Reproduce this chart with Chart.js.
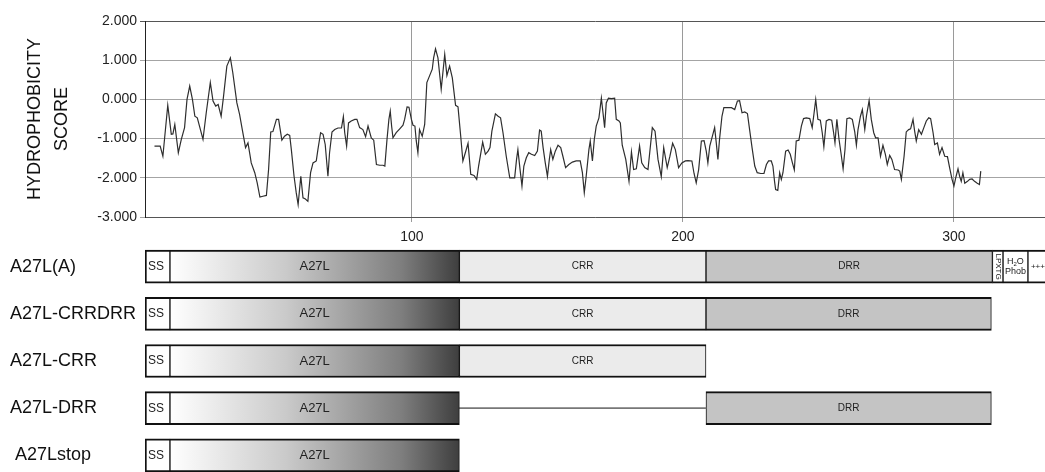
<!DOCTYPE html>
<html>
<head>
<meta charset="utf-8">
<script src="https://cdn.jsdelivr.net/npm/chart.js@4/dist/chart.umd.min.js"></script>
<style>
  html, body { margin: 0; padding: 0; background: #fff; overflow: hidden; width: 1045px; height: 472px; }
  #profile { position: absolute; left: 0; top: 0; }
  #domains { position: absolute; left: 0; top: 243px; }
</style>
</head>
<body>
<canvas id="profile" width="1045" height="245"></canvas>
<canvas id="domains" width="1045" height="236"></canvas>
<script>
// Hydrophobicity profile: residue position and score
const residues = [
  5.0, 7.1, 8.1, 9.9, 11.2, 11.8, 12.5, 13.8, 14.9, 16.1, 17.0, 18.0, 19.0, 19.9, 20.8, 22.9, 24.1, 25.6, 26.6, 27.6,
  28.5, 29.6, 30.5, 31.7, 33.0, 33.9, 35.4, 36.4, 37.4, 38.6, 39.5, 40.2, 40.7, 42.0, 42.9, 43.9, 45.0, 46.3, 47.1, 47.9,
  48.7, 50.0, 50.8, 52.0, 53.0, 54.0, 54.9, 55.5, 56.5, 57.3, 58.0, 59.0, 59.8, 60.7, 61.6, 62.6, 63.5, 64.7, 65.3, 66.3,
  67.2, 68.0, 69.0, 69.6, 70.5, 71.5, 72.7, 74.0, 74.7, 75.2, 75.9, 76.6, 77.6, 78.9, 79.7, 80.7, 81.9, 82.9, 83.8, 85.0,
  85.9, 86.9, 88.1, 89.3, 90.0, 90.8, 91.5, 92.0, 92.5, 93.0, 94.2, 95.5, 96.7, 97.3, 98.2, 98.9, 99.8, 100.4, 101.1, 101.6,
  102.2, 102.8, 103.8, 104.7, 105.5, 106.5, 107.5, 108.0, 108.7, 109.6, 110.8, 112.1, 112.9, 113.9, 114.9, 116.1, 117.0, 118.0, 118.8, 119.7,
  120.7, 121.7, 122.9, 123.9, 124.6, 126.1, 127.1, 128.1, 128.8, 129.5, 130.8, 131.8, 132.7, 133.6, 134.8, 136.1, 136.9, 137.9, 138.6, 139.1,
  139.9, 140.6, 141.3, 142.2, 143.1, 144.1, 145.3, 146.3, 147.1, 147.7, 148.4, 149.2, 150.0, 150.7, 151.2, 152.0, 152.9, 153.9, 154.9, 155.7,
  156.7, 157.9, 159.2, 160.6, 162.1, 162.9, 163.6, 164.3, 165.3, 165.8, 166.6, 167.3, 168.0, 169.0, 169.9, 170.5, 171.1, 171.7, 172.5, 173.6,
  174.8, 175.4, 176.4, 176.9, 177.6, 178.9, 180.1, 181.0, 181.8, 182.8, 184.0, 184.8, 185.9, 187.1, 188.7, 189.7, 190.8, 192.0, 192.9, 194.2,
  195.2, 196.2, 197.2, 198.4, 199.6, 200.9, 201.9, 203.3, 204.1, 204.9, 205.8, 206.8, 207.8, 208.6, 209.2, 209.9, 210.7, 211.7, 212.3, 212.9,
  213.5, 214.4, 215.1, 216.6, 217.9, 219.1, 220.1, 220.9, 221.8, 222.8, 223.8, 224.6, 225.5, 226.5, 227.4, 228.7, 229.9, 230.8, 231.6, 232.6,
  233.2, 233.8, 234.2, 235.0, 235.7, 236.3, 236.9, 237.9, 238.8, 239.6, 240.4, 241.1, 241.8, 242.8, 243.7, 244.5, 245.5, 246.8, 247.7, 248.4,
  249.0, 249.8, 250.7, 251.4, 252.0, 252.9, 253.9, 254.9, 255.6, 256.1, 256.8, 257.6, 258.3, 259.1, 259.8, 260.5, 261.5, 262.5, 263.4, 264.0,
  264.6, 265.5, 266.2, 267.1, 267.7, 268.7, 269.5, 270.4, 271.1, 272.0, 272.9, 273.8, 274.7, 275.4, 276.3, 277.1, 278.1, 279.4, 280.0, 280.6,
  281.6, 282.4, 283.3, 284.0, 284.9, 285.5, 286.1, 287.0, 288.0, 288.9, 289.8, 290.7, 291.4, 292.3, 292.9, 293.9, 294.7, 295.6, 296.6, 297.6,
  298.4, 299.3, 300.0, 300.8, 301.5, 302.1, 302.7, 303.3, 304.0, 305.0, 305.8, 306.7, 307.6, 308.6, 309.4, 309.9
];
const scores = [
  -1.19, -1.19, -1.45, -0.15, -0.89, -0.88, -0.64, -1.36, -1.02, -0.72, 0.00, 0.34, 0.00, -0.43, -0.47, -1.02, -0.34, 0.43, -0.04, -0.17,
  -0.13, -0.43, 0.09, 0.85, 1.06, 0.68, -0.09, -0.38, -0.77, -1.23, -1.11, -1.40, -1.62, -1.87, -2.13, -2.49, -2.47, -2.45, -1.79, -0.83,
  -0.82, -0.51, -0.51, -1.04, -0.94, -0.89, -0.92, -1.28, -1.96, -2.38, -2.68, -1.96, -2.51, -2.54, -2.60, -1.87, -1.62, -1.57, -1.28, -0.85,
  -0.89, -1.15, -1.96, -1.36, -0.83, -0.77, -0.73, -0.73, -0.44, -0.85, -1.19, -0.60, -0.55, -0.51, -0.51, -0.72, -0.77, -0.95, -0.68, -0.98,
  -1.04, -1.66, -1.68, -1.68, -1.70, -1.02, -0.51, -0.30, -0.68, -0.98, -0.85, -0.75, -0.66, -0.51, -0.19, -0.20, -0.51, -0.66, -0.68, -1.06,
  -1.36, -0.77, -0.94, -0.64, 0.43, 0.60, 0.77, 1.06, 1.29, 1.06, 0.26, 1.15, 0.61, 0.85, 0.55, -0.15, -0.19, -0.94, -1.57, -1.36,
  -1.12, -1.91, -1.94, -2.04, -1.70, -1.09, -1.40, -1.32, -1.23, -0.81, -0.37, -0.43, -0.47, -0.85, -1.45, -2.00, -2.00, -2.00, -1.53, -1.28,
  -1.79, -2.21, -1.70, -1.49, -1.36, -1.40, -1.43, -1.32, -0.78, -0.81, -1.23, -1.62, -1.96, -1.53, -1.28, -1.53, -1.32, -1.17, -1.23, -1.45,
  -1.74, -1.66, -1.60, -1.57, -1.57, -1.87, -2.38, -1.96, -1.28, -1.06, -1.57, -1.02, -0.68, -0.47, 0.03, -0.34, -0.72, -0.09, 0.03, 0.02,
  0.03, -0.51, -0.55, -0.60, -1.17, -1.53, -2.09, -1.34, -1.79, -1.77, -1.19, -1.62, -1.74, -1.79, -0.72, -0.81, -1.53, -1.97, -1.23, -1.74,
  -1.45, -1.12, -1.28, -1.74, -1.62, -1.57, -1.56, -1.57, -1.89, -2.13, -1.79, -1.06, -1.05, -1.32, -1.62, -1.19, -0.98, -0.72, -1.11, -1.53,
  -1.02, -0.43, -0.21, -0.21, -0.21, -0.26, -0.04, -0.03, -0.34, -0.32, -0.36, -0.77, -1.23, -1.70, -1.87, -1.89, -1.89, -1.66, -1.57, -1.57,
  -1.70, -2.09, -2.30, -2.32, -1.87, -2.04, -1.87, -1.32, -1.29, -1.40, -1.62, -1.80, -1.06, -1.04, -0.68, -0.49, -0.47, -0.49, -0.72, -0.34,
  0.00, -0.51, -0.53, -0.85, -1.21, -0.55, -0.51, -0.53, -0.85, -1.11, -0.51, -1.02, -1.36, -1.77, -1.28, -0.49, -0.47, -0.51, -0.83, -1.17,
  -0.77, -0.43, -0.26, -0.77, -0.43, -0.03, -0.51, -0.85, -0.98, -0.98, -1.45, -1.17, -1.40, -1.66, -1.43, -1.53, -1.79, -1.80, -1.83, -2.04,
  -1.45, -0.83, -0.77, -0.75, -0.51, -0.81, -1.06, -0.77, -0.89, -0.72, -0.55, -0.47, -0.49, -0.85, -1.15, -1.11, -1.40, -1.23, -1.45, -1.46,
  -1.74, -2.04, -2.21, -1.96, -1.77, -1.96, -2.09, -1.87, -2.14, -2.09, -2.04, -2.03, -2.09, -2.14, -2.17, -1.83
];
const scoreTicks = [2, 1, 0, -1, -2, -3];
const residueTicks = [100, 200, 300];

// Constructs and their domain spans (residue start, residue end); null = domain absent
const constructs = ['A27L(A)', 'A27L-CRRDRR', 'A27L-CRR', 'A27L-DRR', ' A27Lstop'];
const ssSpans     = [[1.5, 10.7], [1.5, 10.7], [1.5, 10.7], [1.5, 10.7], [1.5, 10.7]];
const a27lSpans   = [[10.7, 117.5], [10.7, 117.5], [10.7, 117.5], [10.7, 117.5], [10.7, 117.5]];
const crrSpans    = [[117.5, 208.5], [117.5, 208.5], [117.5, 208.5], null, null];
const linkerSpans = [null, null, null, [117.5, 208.5], null];
const drrSpans    = [[208.5, 314.2], [208.5, 313.8], null, [208.5, 313.8], null];
const lpxtgSpans  = [[314.2, 318.1], null, null, null, null];
const phobSpans   = [[318.1, 327.3], null, null, null, null];
const chargeSpans = [[327.3, 340], null, null, null, null];

const X_MIN = 1.5, X_MAX = 333.6;
const FONT = 'Liberation Sans, Arial, sans-serif';

new Chart(document.getElementById('profile'), {
  type: 'line',
  data: {
    datasets: [{
      data: residues.map((r, i) => ({ x: r, y: scores[i] })),
      borderColor: '#2e2e2e',
      borderWidth: 1.2,
      pointRadius: 0,
      tension: 0,
      fill: false
    }]
  },
  options: {
    responsive: false,
    animation: false,
    events: [],
    layout: { padding: { top: 21, right: 0, bottom: 0, left: 0 } },
    plugins: { legend: { display: false }, tooltip: { enabled: false } },
    scales: {
      x: {
        type: 'linear', min: X_MIN, max: X_MAX,
        afterBuildTicks: s => { s.ticks = residueTicks.map(v => ({ value: v })); },
        afterFit: s => { s.height = 28; },
        grid: { color: '#9a9a9a', tickLength: 5, lineWidth: 1 },
        border: { color: '#555', width: 1 },
        ticks: { font: { family: FONT, size: 14 }, color: '#222', padding: 7, maxRotation: 0, callback: v => String(v) }
      },
      y: {
        min: -3, max: 2,
        afterBuildTicks: s => { s.ticks = scoreTicks.map(v => ({ value: v })); },
        afterFit: s => { s.width = 145; },
        title: {
          display: true, text: ['HYDROPHOBICITY', 'SCORE'], color: '#111',
          font: { family: FONT, size: 18, lineHeight: 1.5 },
          padding: { top: 21.5, bottom: 0 }
        },
        grid: { color: c => (c.tick && c.tick.value === 2) ? '#555' : '#a4a4a4', tickLength: 5 },
        border: { color: '#222', width: 1 },
        ticks: { font: { family: FONT, size: 14 }, color: '#222', padding: 3, callback: v => Number(v).toFixed(3) }
      }
    }
  }
});

// Horizontal fill gradient for the A27L domain
function a27lFill(ctx) {
  const chart = ctx.chart, xs = chart.scales.x;
  if (!xs || !chart.chartArea) return '#999';
  const x0 = xs.getPixelForValue(a27lSpans[0][0]);
  const x1 = xs.getPixelForValue(a27lSpans[0][1]);
  const g = chart.ctx.createLinearGradient(x0, 0, x1, 0);
  g.addColorStop(0, '#ffffff');
  g.addColorStop(0.4, '#cacaca');
  g.addColorStop(0.8, '#7e7e7e');
  g.addColorStop(1, '#3e3e3e');
  return g;
}

// Writes each domain's name inside its box
const domainText = {
  id: 'domainText',
  afterDatasetsDraw(chart) {
    const c = chart.ctx;
    chart.data.datasets.forEach((ds, i) => {
      if (!ds.tag) return;
      const meta = chart.getDatasetMeta(i);
      meta.data.forEach((bar, j) => {
        if (ds.data[j] == null) return;
        const p = bar.getProps(['x', 'y', 'base'], true);
        const left = Math.min(p.x, p.base), right = Math.max(p.x, p.base);
        const cx = (left + right) / 2, cy = p.y;
        c.save();
        c.fillStyle = '#222';
        c.textBaseline = 'middle';
        const t = ds.tag;
        if (t.kind === 'left') {
          c.font = t.size + 'px ' + FONT;
          c.textAlign = 'left';
          c.fillText(t.text, left + t.pad, cy);
        } else if (t.kind === 'center') {
          c.font = t.size + 'px ' + FONT;
          c.textAlign = 'center';
          c.fillText(t.text, cx, cy);
        } else if (t.kind === 'vertical') {
          c.font = t.size + 'px ' + FONT;
          c.textAlign = 'center';
          c.translate(cx, cy);
          c.rotate(Math.PI / 2);
          c.fillText(t.text, 0, 0);
        } else if (t.kind === 'water') {
          c.textAlign = 'left';
          c.font = '9px ' + FONT;
          const x = left + 4;
          c.fillText('H', x, cy - 5);
          const wH = c.measureText('H').width;
          c.font = '6px ' + FONT;
          c.fillText('2', x + wH, cy - 2);
          const w2 = c.measureText('2').width;
          c.font = '9px ' + FONT;
          c.fillText('O', x + wH + w2, cy - 5);
          c.fillText('Phob', left + 2, cy + 5);
        }
        c.restore();
      });
    });
  }
};

const boxBorder = { top: 2, bottom: 2, left: 1, right: 1 };
const common = { grouped: false, barThickness: 33, borderColor: '#111', borderWidth: boxBorder, borderSkipped: false };

new Chart(document.getElementById('domains'), {
  type: 'bar',
  data: {
    labels: constructs,
    datasets: [
      Object.assign({ data: ssSpans, backgroundColor: '#ffffff', borderWidth: { top: 2, bottom: 2, left: 2, right: 1 },
        tag: { kind: 'left', text: 'SS', size: 12, pad: 3 } }, { grouped: false, barThickness: 33, borderColor: '#111', borderSkipped: false }),
      Object.assign({ data: a27lSpans, backgroundColor: a27lFill, tag: { kind: 'center', text: 'A27L', size: 13 } }, common),
      Object.assign({ data: crrSpans, backgroundColor: '#ebebeb', tag: { kind: 'center', text: 'CRR', size: 10 } }, common),
      { data: linkerSpans, grouped: false, barThickness: 1, backgroundColor: '#777', borderWidth: 0 },
      Object.assign({ data: drrSpans, backgroundColor: '#c4c4c4', tag: { kind: 'center', text: 'DRR', size: 10 } }, common),
      Object.assign({ data: lpxtgSpans, backgroundColor: '#ffffff', tag: { kind: 'vertical', text: 'LPXTG', size: 8 } }, common),
      Object.assign({ data: phobSpans, backgroundColor: '#ffffff', tag: { kind: 'water' } }, common),
      Object.assign({ data: chargeSpans, backgroundColor: '#ffffff', tag: { kind: 'left', text: '+++', size: 8, pad: 3 } }, common)
    ]
  },
  options: {
    indexAxis: 'y',
    responsive: false,
    animation: false,
    events: [],
    layout: { padding: { top: 0, right: 0, bottom: 0, left: 10 } },
    plugins: { legend: { display: false }, tooltip: { enabled: false } },
    scales: {
      x: { type: 'linear', display: false, min: X_MIN, max: X_MAX },
      y: {
        afterFit: s => { s.width = 135; s.paddingTop = 0; s.paddingBottom = 0; },
        grid: { display: false },
        border: { display: false },
        ticks: { crossAlign: 'far', padding: 0, color: '#111', font: { family: FONT, size: 18 } }
      }
    }
  },
  plugins: [domainText]
});
</script>
</body>
</html>
